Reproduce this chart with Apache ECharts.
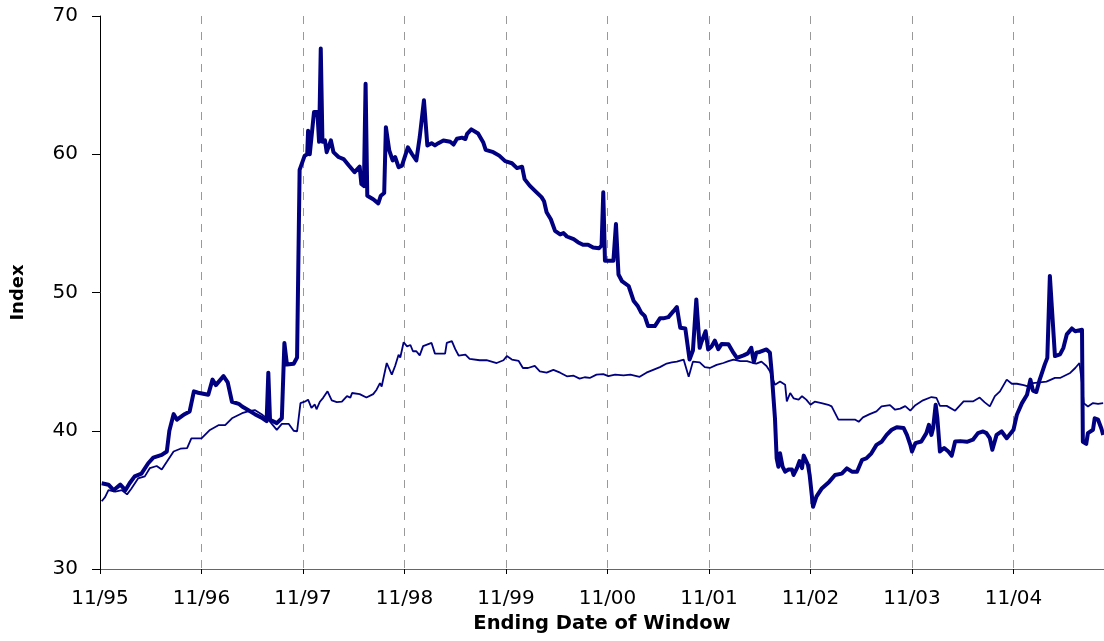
<!DOCTYPE html>
<html>
<head>
<meta charset="utf-8">
<script src="https://cdn.jsdelivr.net/npm/echarts@6/dist/echarts.min.js"></script>
<style>
  html, body { margin: 0; padding: 0; background: #fff; }
  #chart { width: 1104px; height: 641px; }
</style>
</head>
<body>
<div id="chart"></div>
<script>
// x values are months after 11/95
const wideMonths = [
  0.2, 1.0, 1.6, 2.4, 3.0, 3.5, 4.1, 4.9, 5.7, 6.3, 7.3, 7.9, 8.2, 8.7, 9.1, 10.0, 10.6, 11.1, 11.6, 12.8,
  13.3, 13.7, 14.6, 15.1, 15.6, 16.4, 16.8, 17.5, 18.3, 19.1, 19.7, 19.9, 20.1, 20.9, 21.5, 21.8, 22.1, 22.9, 23.3, 23.6,
  24.2, 24.5, 24.6, 24.8, 25.3, 25.7, 25.9, 26.1, 26.3, 26.6, 26.8, 27.3, 27.6, 28.2, 28.8, 29.4, 30.1, 30.7, 30.9, 31.2,
  31.4, 31.6, 32.3, 32.9, 33.2, 33.6, 33.8, 34.2, 34.6, 34.9, 35.3, 35.7, 36.4, 36.9, 37.4, 37.8, 38.3, 38.7, 39.2, 39.6,
  40.0, 40.6, 41.4, 41.8, 42.2, 42.8, 43.2, 43.4, 43.9, 44.7, 45.3, 45.6, 46.5, 47.2, 47.9, 48.7, 49.3, 49.9, 50.2, 50.8,
  51.4, 52.2, 52.5, 52.8, 53.3, 53.8, 54.4, 54.8, 55.2, 56.0, 56.5, 57.1, 57.7, 58.3, 59.0, 59.3, 59.5, 59.7, 60.7, 61.0,
  61.3, 61.7, 62.5, 63.1, 63.6, 64.0, 64.4, 64.8, 65.6, 66.2, 66.6, 67.2, 67.8, 68.2, 68.6, 69.2, 69.7, 70.1, 70.5, 70.9,
  71.1, 71.6, 71.9, 72.3, 72.7, 73.1, 73.5, 74.3, 74.9, 75.3, 76.1, 76.6, 77.0, 77.3, 77.6, 78.0, 78.8, 79.2, 79.4, 79.8,
  80.0, 80.2, 80.4, 80.7, 81.0, 81.4, 81.8, 82.0, 82.4, 82.7, 83.0, 83.2, 83.7, 83.9, 84.3, 84.7, 85.3, 86.2, 86.9, 87.7,
  88.3, 88.9, 89.5, 90.1, 90.6, 91.2, 91.8, 92.4, 93.0, 93.6, 94.2, 95.0, 95.4, 95.8, 96.0, 96.4, 97.1, 97.7, 98.0, 98.3,
  98.5, 98.8, 99.0, 99.3, 99.8, 100.3, 100.7, 101.1, 101.7, 102.5, 103.2, 103.8, 104.4, 104.8, 105.2, 105.5, 106.0, 106.6, 107.2, 108.0,
  108.4, 109.0, 109.6, 110.0, 110.3, 110.7, 111.1, 111.7, 112.0, 112.3, 112.9, 113.5, 113.9, 114.3, 114.9, 115.3, 116.1, 116.2, 116.6, 116.8,
  117.4, 117.6, 118.0, 118.4, 118.6
];
const wideValues = [
  36.2, 36.1, 35.7, 36.1, 35.7, 36.2, 36.7, 36.9, 37.65, 38.05, 38.25, 38.5, 40.0, 41.2, 40.8, 41.2, 41.4, 42.85, 42.75, 42.6,
  43.7, 43.3, 43.95, 43.5, 42.1, 41.95, 41.75, 41.5, 41.2, 40.95, 40.7, 44.2, 40.8, 40.55, 40.9, 46.35, 44.8, 44.85, 45.3, 58.87,
  59.9, 60.0, 61.7, 60.0, 63.05, 63.05, 60.9, 67.65, 60.9, 61.0, 60.15, 61.0, 60.15, 59.8, 59.65, 59.2, 58.7, 59.1, 57.85, 57.7,
  65.1, 57.0, 56.75, 56.45, 57.0, 57.2, 61.96, 60.27, 59.55, 59.8, 59.06, 59.18, 60.5, 60.0, 59.55, 61.24, 63.9, 60.64, 60.8, 60.64,
  60.8, 61.0, 60.9, 60.7, 61.12, 61.2, 61.1, 61.48, 61.8, 61.5, 60.87, 60.32, 60.15, 59.9, 59.5, 59.35, 59.0, 59.1, 58.2, 57.73,
  57.37, 56.9, 56.6, 55.8, 55.3, 54.46, 54.2, 54.3, 54.05, 53.86, 53.64, 53.45, 53.45, 53.25, 53.2, 53.4, 57.25, 52.3, 52.3, 54.95,
  51.3, 50.83, 50.47, 49.38, 49.0, 48.53, 48.3, 47.57, 47.57, 48.13, 48.13, 48.22, 48.65, 48.95, 47.45, 47.4, 45.15, 45.8, 49.5, 46.0,
  46.4, 47.2, 45.88, 46.1, 46.52, 45.9, 46.28, 46.25, 45.63, 45.27, 45.45, 45.6, 46.0, 44.98, 45.65, 45.7, 45.88, 45.65, 44.3, 40.9,
  38.0, 37.4, 38.37, 37.4, 37.04, 37.2, 37.2, 36.8, 37.3, 37.8, 37.3, 38.2, 37.53, 36.8, 34.5, 35.23, 35.8, 36.3, 36.8, 36.9,
  37.28, 37.04, 37.04, 37.9, 38.0, 38.37, 38.98, 39.2, 39.7, 40.07, 40.26, 40.2, 39.7, 38.98, 38.5, 39.1, 39.22, 39.83, 40.43, 39.7,
  40.2, 41.88, 40.9, 38.5, 38.75, 38.5, 38.2, 39.22, 39.25, 39.2, 39.35, 39.83, 39.95, 39.83, 39.46, 38.62, 39.7, 39.95, 39.46, 40.07,
  41.16, 42.0, 42.6, 43.7, 42.9, 42.8, 43.7, 44.8, 45.27, 51.2, 45.4, 45.52, 46.0, 46.97, 47.4, 47.2, 47.3, 39.2, 39.05, 39.83,
  40.07, 40.9, 40.8, 40.14, 39.7
];

const thinMonths = [
  0.2, 0.6, 1.0, 1.8, 2.6, 3.2, 3.7, 4.5, 5.3, 5.9, 6.7, 7.3, 7.9, 8.7, 9.5, 10.3, 10.8, 12.0, 13.0, 14.0,
  14.8, 15.6, 16.8, 17.5, 18.3, 19.1, 19.9, 20.9, 21.5, 22.3, 22.9, 23.3, 23.7, 24.2, 24.6, 25.0, 25.4, 25.6, 26.0, 26.4,
  26.9, 27.4, 28.0, 28.6, 29.2, 29.6, 29.8, 30.7, 31.5, 32.3, 32.7, 33.1, 33.3, 33.9, 34.5, 34.9, 35.3, 35.5, 35.9, 36.3,
  36.7, 37.0, 37.4, 37.8, 38.2, 39.2, 39.6, 40.8, 41.0, 41.6, 42.0, 42.4, 43.2, 43.7, 44.9, 45.7, 46.3, 46.9, 47.7, 48.1,
  48.7, 49.5, 50.0, 50.6, 51.4, 52.0, 52.8, 53.6, 54.4, 55.2, 56.0, 56.7, 57.3, 57.9, 58.7, 59.5, 60.1, 60.9, 61.9, 62.7,
  63.8, 64.6, 65.4, 66.2, 67.0, 67.6, 68.2, 69.0, 69.6, 70.1, 70.9, 71.5, 72.1, 72.9, 73.7, 74.3, 74.9, 75.7, 76.5, 77.2,
  77.6, 78.2, 78.8, 79.2, 79.8, 80.4, 81.0, 81.2, 81.6, 82.0, 82.6, 83.0, 83.5, 84.0, 84.5, 85.3, 86.1, 86.5, 87.3, 88.3,
  89.3, 89.7, 90.2, 91.0, 91.8, 92.4, 93.4, 94.0, 94.6, 95.2, 95.8, 96.4, 97.3, 98.3, 98.9, 99.3, 100.1, 101.1, 102.1, 103.2,
  104.0, 104.6, 105.2, 105.8, 106.4, 107.2, 107.8, 108.4, 109.2, 109.8, 110.3, 111.1, 111.9, 112.9, 113.5, 114.1, 114.7, 115.3, 115.8, 116.1,
  116.3, 116.8, 117.4, 118.0, 118.6
];
const thinValues = [
  34.9, 35.2, 35.7, 35.6, 35.7, 35.4, 35.8, 36.55, 36.7, 37.3, 37.45, 37.2, 37.75, 38.5, 38.7, 38.75, 39.45, 39.45, 40.06, 40.4,
  40.4, 40.9, 41.27, 41.4, 41.5, 41.2, 40.8, 40.06, 40.5, 40.5, 40.0, 39.95, 42.0, 42.1, 42.25, 41.65, 41.9, 41.55, 42.1, 42.4,
  42.85, 42.2, 42.07, 42.1, 42.5, 42.4, 42.73, 42.65, 42.4, 42.65, 42.97, 43.45, 43.2, 44.9, 44.06, 44.7, 45.5, 45.3, 46.4, 46.1,
  46.2, 45.75, 45.75, 45.45, 46.12, 46.35, 45.58, 45.58, 46.35, 46.48, 45.9, 45.44, 45.5, 45.2, 45.1, 45.1, 45.0, 44.9, 45.1, 45.4,
  45.15, 45.05, 44.54, 44.54, 44.7, 44.3, 44.2, 44.4, 44.2, 43.94, 43.98, 43.77, 43.87, 43.82, 44.06, 44.1, 43.95, 44.06, 44.0, 44.06,
  43.9, 44.2, 44.4, 44.6, 44.86, 44.95, 45.0, 45.15, 43.9, 45.0, 44.95, 44.6, 44.54, 44.76, 44.9, 45.03, 45.15, 45.03, 45.03, 44.9,
  44.85, 45.0, 44.68, 44.3, 43.33, 43.57, 43.33, 42.12, 42.73, 42.35, 42.25, 42.5, 42.25, 41.88, 42.1, 42.0, 41.88, 41.76, 40.8, 40.8,
  40.8, 40.65, 40.97, 41.2, 41.4, 41.76, 41.85, 41.52, 41.6, 41.78, 41.45, 41.85, 42.2, 42.44, 42.37, 41.8, 41.8, 41.45, 42.12, 42.12,
  42.4, 42.05, 41.76, 42.5, 42.85, 43.7, 43.4, 43.4, 43.3, 43.2, 43.45, 43.5, 43.55, 43.82, 43.82, 44.0, 44.18, 44.54, 44.9, 43.4,
  42.0, 41.76, 42.0, 41.95, 42.0
];

const startYear = 95  // first tick is 11/95
const yTicks = [30, 40, 50, 60, 70]

const pair = (xs, ys) => xs.map((x, i) => [x, ys[i]])

const chart = echarts.init(document.getElementById('chart'))
const font = 'DejaVu Sans, sans-serif'

chart.setOption({
  animation: false,
  grid: { left: 100, top: 16, right: 0, bottom: 72 },
  xAxis: {
    type: 'value',
    min: 0,
    max: 118.7,
    interval: 12,
    name: 'Ending Date of Window',
    nameLocation: 'middle',
    nameGap: 44,
    nameTextStyle: { fontFamily: font, fontSize: 19.5, fontWeight: 'bold', color: '#000' },
    axisLine: { lineStyle: { color: '#666', width: 1 } },
    axisTick: { show: true, length: 5, lineStyle: { color: '#000' } },
    axisLabel: {
      fontFamily: font, fontSize: 20, color: '#000', margin: 20,
      showMaxLabel: false,
      formatter: v => {
        const yy = (startYear + Math.round(v / 12)) % 100
        return '11/' + String(yy).padStart(2, '0')
      }
    },
    splitLine: { show: true, lineStyle: { color: '#999', type: [8, 8], width: 1 } }
  },
  yAxis: {
    type: 'value',
    min: yTicks[0],
    max: yTicks[yTicks.length - 1],
    interval: 10,
    name: 'Index',
    nameLocation: 'middle',
    nameGap: 73,
    nameTextStyle: { fontFamily: font, fontSize: 18, fontWeight: 'bold', color: '#000' },
    axisLine: { show: true, lineStyle: { color: '#000', width: 1 } },
    axisTick: { show: true, inside: false, length: 8, lineStyle: { color: '#000' } },
    axisLabel: { fontFamily: font, fontSize: 20, color: '#000', margin: 22 },
    splitLine: { show: false }
  },
  series: [
    {
      name: 'thin',
      type: 'line',
      data: pair(thinMonths, thinValues),
      showSymbol: false,
      lineStyle: { color: '#000080', width: 1.8 }
    },
    {
      name: 'wide',
      type: 'line',
      data: pair(wideMonths, wideValues),
      showSymbol: false,
      lineStyle: { color: '#000080', width: 4, join: 'round' }
    }
  ]
})
</script>
</body>
</html>
